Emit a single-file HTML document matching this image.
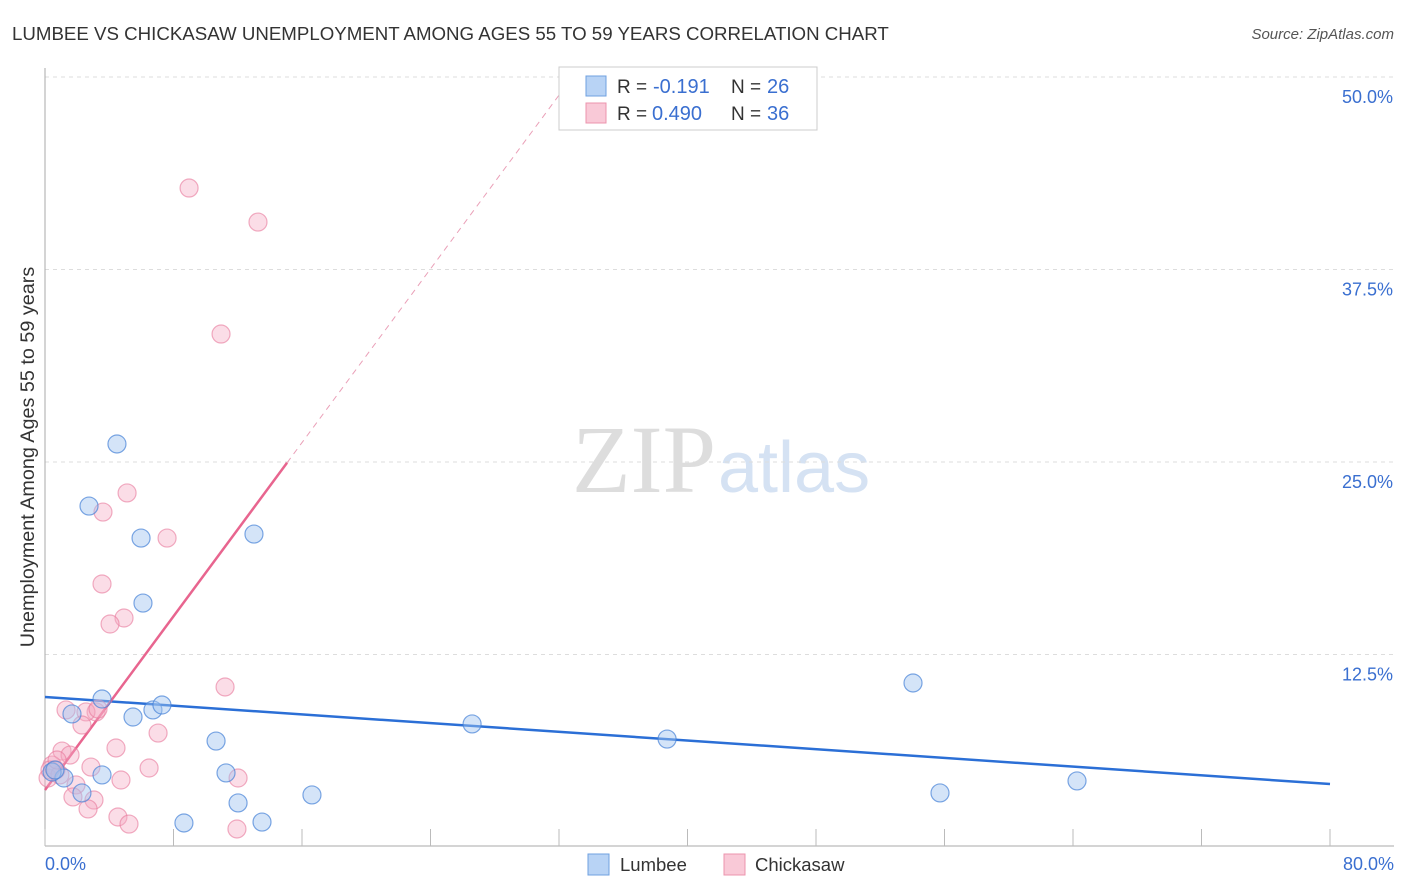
<!DOCTYPE html>
<html><head><meta charset="utf-8"><style>
body{margin:0;background:#fff;font-family:"Liberation Sans",sans-serif;}
svg{display:block}
</style></head><body>
<svg width="1406" height="892">
<text x="12" y="40" font-size="18.7" fill="#333">LUMBEE VS CHICKASAW UNEMPLOYMENT AMONG AGES 55 TO 59 YEARS CORRELATION CHART</text>
<text x="1394" y="39" font-size="15" fill="#555" text-anchor="end" font-style="italic">Source: ZipAtlas.com</text>
<text x="716" y="492" font-size="96" fill="#ddd" text-anchor="end" font-family="Liberation Serif">ZIP</text>
<text x="718" y="492" font-size="72" fill="#d5e2f3">atlas</text>
<text transform="translate(34,457) rotate(-90)" font-size="19.8" fill="#333" text-anchor="middle">Unemployment Among Ages 55 to 59 years</text>
<g id="grid"></g><g id="axes"></g><g id="trends"></g><g id="pts"></g>
<g>
<rect x="559" y="67" width="258" height="63" fill="#fff" stroke="#ccc"/>
<rect x="586" y="76" width="20" height="20" fill="#b8d3f5" stroke="#6fa0e0"/>
<rect x="586" y="103" width="20" height="20" fill="#f9c9d7" stroke="#ec94ae"/>
<text x="617" y="93" font-size="19" fill="#333">R =</text>
<text x="653" y="93" font-size="20" fill="#3a6fd0">-0.191</text>
<text x="731" y="93" font-size="19" fill="#333">N =</text>
<text x="767" y="93" font-size="20" fill="#3a6fd0">26</text>
<text x="617" y="120" font-size="19" fill="#333">R =</text>
<text x="652" y="120" font-size="20" fill="#3a6fd0">0.490</text>
<text x="731" y="120" font-size="19" fill="#333">N =</text>
<text x="767" y="120" font-size="20" fill="#3a6fd0">36</text>
</g>
<g>
<rect x="588" y="854" width="21" height="21" fill="#b8d3f5" stroke="#6fa0e0"/>
<text x="620" y="871" font-size="18.5" fill="#333">Lumbee</text>
<rect x="724" y="854" width="21" height="21" fill="#f9c9d7" stroke="#ec94ae"/>
<text x="755" y="871" font-size="18.5" fill="#333">Chickasaw</text>
</g>
</svg>
<script>
const lumbeeX=[4.48,2.74,5.98,13.01,6.10,3.55,5.48,6.72,7.28,1.68,10.65,11.27,3.55,1.18,0.44,2.30,12.02,8.65,13.51,16.62,26.59,38.73,54.04,55.72,64.25,0.62];
const lumbeeY=[26.17,22.14,20.06,20.32,15.84,9.61,8.44,8.90,9.22,8.64,6.88,4.81,4.68,4.48,4.87,3.51,2.86,1.56,1.62,3.38,7.99,7.01,10.65,3.51,4.29,5.0];
const chickX=[8.97,13.26,10.96,5.11,3.61,7.60,3.55,4.92,4.05,11.21,1.31,3.18,2.55,3.30,2.30,7.04,4.42,1.06,1.56,6.48,2.86,4.73,0.44,0.19,0.68,1.93,1.74,3.05,2.68,4.54,5.23,12.02,11.95,0.93,0.31,0.75];
const chickY=[42.79,40.58,33.31,22.99,21.75,20.06,17.08,14.87,14.48,10.39,8.90,8.77,8.77,8.96,7.92,7.40,6.43,6.23,5.97,5.13,5.19,4.35,5.32,4.48,5.0,4.03,3.25,3.05,2.47,1.95,1.49,4.48,1.17,4.68,5.0,5.65];
const yTicks=[12.5,25,37.5,50];
const xTicks=[0,8,16,24,32,40,48,56,64,72,80];
const lumbeeTrend=[9.74,4.09];
const chickTrend=[3.7,1.41];
const NS="http://www.w3.org/2000/svg";
const X=v=>45+v/80*1285, Y=v=>847-v/50*770;
function mk(tag,at,parent){const e=document.createElementNS(NS,tag);for(const k in at)e.setAttribute(k,at[k]);document.getElementById(parent).appendChild(e);return e;}
yTicks.forEach(t=>{
 const l=mk('line',{x1:45,x2:1394,y1:Y(t),y2:Y(t),stroke:'#ddd','stroke-dasharray':'4,4'},'grid');
 
 
 const tx=mk('text',{x:1393,y:Y(t)+26,'font-size':18,fill:'#3a6fd0','text-anchor':'end'},'grid');
 tx.textContent=t.toFixed(1)+'%';
 
 
});
let a=mk('line',{x1:45,x2:45,y1:68,y2:846,stroke:'#aaa'},'axes');


a=mk('line',{x1:45,x2:1394,y1:846,y2:846,stroke:'#aaa'},'axes');


xTicks.forEach(t=>{const l=mk('line',{x1:X(t),x2:X(t),y1:829,y2:846,stroke:'#bbb'},'axes');
 
 });
[[0,'start',45],[80,'end',1394]].forEach(([v,anc,px])=>{const tx=mk('text',{x:px,y:870,'font-size':18,fill:'#3a6fd0','text-anchor':anc},'axes');tx.textContent=v.toFixed(1)+'%';
 
 });
let tl=mk('line',{x1:X(0),y1:Y(lumbeeTrend[0]),x2:X(80),y2:Y(lumbeeTrend[1]),stroke:'#2b6fd6','stroke-width':2.5},'trends');


const cy=x=>chickTrend[0]+chickTrend[1]*x;
tl=mk('line',{x1:X(0),y1:Y(cy(0)),x2:X(15.07),y2:Y(cy(15.07)),stroke:'#e8658f','stroke-width':2.5},'trends');


tl=mk('line',{x1:X(15.07),y1:Y(cy(15.07)),x2:X(33),y2:Y(cy(33)),stroke:'#eaa0b8','stroke-width':1,'stroke-dasharray':'6,5'},'trends');


chickX.forEach((x,i)=>{const c=mk('circle',{cx:X(x),cy:Y(chickY[i]),r:9,fill:'rgba(246,170,195,0.4)',stroke:'rgba(232,120,155,0.6)','stroke-width':1.2},'pts');
 
 });
lumbeeX.forEach((x,i)=>{const c=mk('circle',{cx:X(x),cy:Y(lumbeeY[i]),r:9,fill:'rgba(160,195,240,0.45)',stroke:'rgba(70,130,215,0.7)','stroke-width':1.2},'pts');
 
 });
</script>
</body></html>
